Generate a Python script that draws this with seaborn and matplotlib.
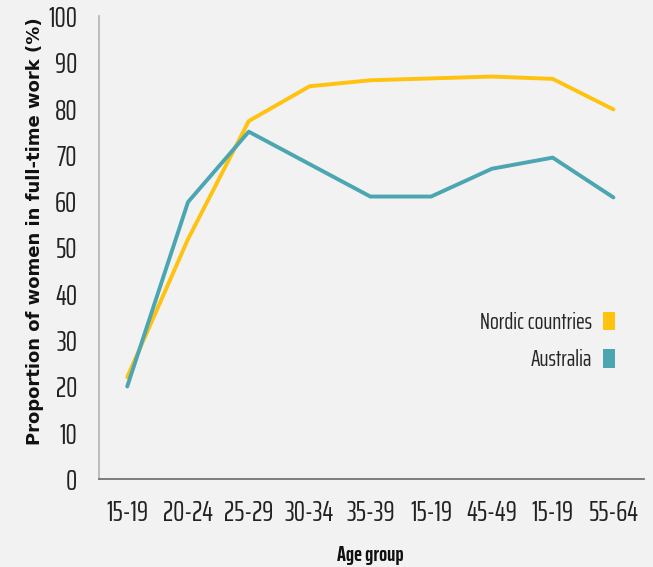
import numpy as np
import pandas as pd
import matplotlib
matplotlib.use("Agg")
import matplotlib.pyplot as plt
from matplotlib.patches import Patch
from matplotlib.font_manager import FontProperties
from matplotlib.textpath import TextPath
import seaborn as sns

# dados
age_groups = ["15-19", "20-24", "25-29", "30-34", "35-39", "15-19", "45-49", "15-19", "55-64"]
nordic = [22, 51.8, 77.3, 84.8, 86.1, 86.5, 86.9, 86.4, 79.8]
australia = [20, 59.8, 75, 68, 61, 61, 67, 69.4, 60.8]
series_names = ["Nordic countries", "Australia"]
colors = ["#FFC20E", "#4BA6B2"]

pos = np.arange(len(age_groups))
df = pd.DataFrame({
    "pos": np.concatenate([pos, pos]),
    "valor": nordic + australia,
    "serie": [series_names[0]] * len(pos) + [series_names[1]] * len(pos),
})

sns.set_theme(style="white")
fonte = ["Saira ExtraCondensed", "Barlow Condensed", "DejaVu Sans"]
plt.rcParams["font.family"] = fonte


# tamanho em pt para uma altura de maiuscula em pixels
def tam(px, peso="normal"):
    cap = TextPath((0, 0), "H", size=100, prop=FontProperties(family=fonte, weight=peso)).get_extents().height / 100
    return px / cap * 0.72


fs_tick = tam(19.5)
fs_leg = tam(16)
fs_xlab = tam(14.5, "bold")
leg_px = fs_leg / 0.72

fig = plt.figure(figsize=(6.53, 5.67), dpi=100, facecolor="#f2f2f2")
ax = fig.add_axes([0.152, 0.155, 0.834, 0.817])
ax.set_facecolor("#f2f2f2")

sns.lineplot(data=df, x="pos", y="valor", hue="serie", palette=colors,
             linewidth=2.8, ax=ax, legend=False, sort=False)

ax.set_xlim(-0.46, 8.5)
ax.set_ylim(0, 100)
ax.set_xticks(pos)
ax.set_xticklabels(age_groups)
ax.set_yticks(np.arange(0, 101, 10))
ax.tick_params(axis="both", length=0, labelsize=fs_tick, colors="#222222")
ax.tick_params(axis="x", pad=14)
ax.tick_params(axis="y", pad=16)

for s in ["top", "right"]:
    ax.spines[s].set_visible(False)
ax.spines["left"].set_color("#b5b5b5")
ax.spines["bottom"].set_color("#6e6e6e")

ax.set_xlabel("Age group", fontsize=fs_xlab, fontweight="bold", color="#111111")
ax.xaxis.set_label_coords(0.4976, -0.142)
ax.set_ylabel("Proportion of women in full-time work (%)", fontsize=13, fontweight="bold",
              family="DejaVu Sans", color="#111111")
ax.yaxis.set_label_coords(-0.101, 0.536)

handles = [Patch(facecolor=c, edgecolor="none") for c in colors]
leg = ax.legend(handles, series_names, loc="center right", bbox_to_anchor=(0.9475, 0.298),
                frameon=False, markerfirst=False, fontsize=fs_leg, borderpad=0, borderaxespad=0,
                handlelength=12 / leg_px, handleheight=20 / leg_px,
                handletextpad=11 / leg_px, labelspacing=0.68)

fig.savefig("out.png", dpi=100, facecolor=fig.get_facecolor())
